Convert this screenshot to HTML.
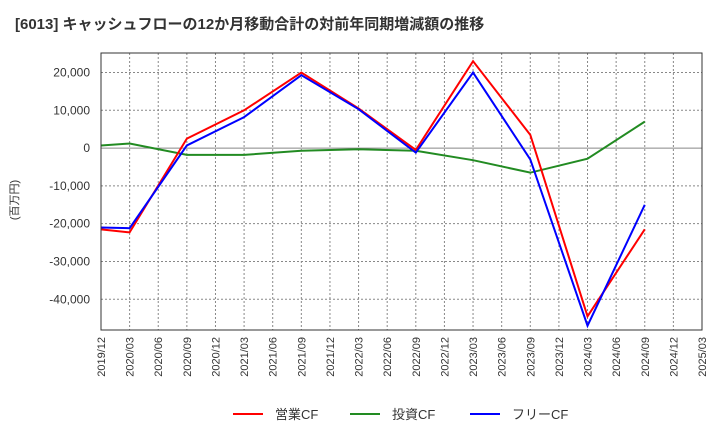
<!DOCTYPE html>
<html><head><meta charset="utf-8"><style>
body{margin:0;background:#fff;font-family:"Liberation Sans","Noto Sans CJK JP",sans-serif;}
</style></head><body>
<svg width="720" height="440" xmlns="http://www.w3.org/2000/svg" id="svg">
<text x="15" y="29" font-size="15" font-weight="bold" fill="#333" font-family="Liberation Sans,Noto Sans CJK JP,sans-serif">[6013]  キャッシュフローの12か月移動合計の対前年同期増減額の推移</text>
<text transform="translate(18,200) rotate(-90)" text-anchor="middle" font-size="11" fill="#333" font-family="Liberation Sans,Noto Sans CJK JP,sans-serif">(百万円)</text>
<g id="grid"></g><g id="lines"></g><g id="axes"></g>
<g>
<line x1="233" y1="414" x2="263" y2="414" stroke="#f00" stroke-width="2"/>
<text x="275" y="419" font-size="13" fill="#333" font-family="Liberation Sans,Noto Sans CJK JP,sans-serif">営業CF</text>
<line x1="350" y1="414" x2="380" y2="414" stroke="#228b22" stroke-width="2"/>
<text x="392" y="419" font-size="13" fill="#333" font-family="Liberation Sans,Noto Sans CJK JP,sans-serif">投資CF</text>
<line x1="470" y1="414" x2="500" y2="414" stroke="#00f" stroke-width="2"/>
<text x="512" y="419" font-size="13" fill="#333" font-family="Liberation Sans,Noto Sans CJK JP,sans-serif">フリーCF</text>
</g>
</svg>
<script>
const categories=["2019/12","2020/03","2020/06","2020/09","2020/12","2021/03","2021/06","2021/09","2021/12","2022/03","2022/06","2022/09","2022/12","2023/03","2023/06","2023/09","2023/12","2024/03","2024/06","2024/09","2024/12","2025/03"];
const pointIdx=[0,1,3,5,7,9,11,13,15,17,19];
const operatingCF=[-21500,-22300,2500,10000,20000,10500,-500,23000,3500,-44500,-21500];
const investingCF=[700,1200,-1800,-1800,-700,-300,-700,-3200,-6500,-2800,7000];
const freeCF=[-21000,-21200,700,8200,19300,10300,-1200,20000,-3000,-47000,-15000];
const yTicks=[20000,10000,0,-10000,-20000,-30000,-40000];
const yTickLabels=["20,000","10,000","0","-10,000","-20,000","-30,000","-40,000"];
const L=101,R=702,T=53,B=330,YMAX=24900,YMIN=-48400;
const NS="http://www.w3.org/2000/svg";
const xs=i=>L+i*(R-L)/(categories.length-1);
const ys=v=>T+1+(YMAX-v)*(B-T)/(YMAX-YMIN);
function mk(t,a,p){const e=document.createElementNS(NS,t);for(const k in a)e.setAttribute(k,a[k]);p.appendChild(e);return e;}
const grid=document.getElementById('grid'),axes=document.getElementById('axes'),lines=document.getElementById('lines');
categories.forEach((c,i)=>{
  const g=mk('line',{x1:xs(i),x2:xs(i),y1:T,y2:B,stroke:'#888','stroke-dasharray':'2,2','stroke-width':1},grid);
  
  
  const t=mk('text',{transform:`translate(${xs(i)+4},${B+7}) rotate(-90)`,'text-anchor':'end','font-size':11,fill:'#333'},axes);
  t.textContent=c;
  
  
});
yTicks.forEach((v,i)=>{
  const g=mk('line',{x1:L,x2:R,y1:ys(v),y2:ys(v),stroke:'#888','stroke-dasharray':v===0?'none':'2,2','stroke-width':1},grid);
  
  
  const t=mk('text',{x:L-11,y:ys(v)+4,'text-anchor':'end','font-size':12,fill:'#333'},axes);
  t.textContent=yTickLabels[i];
  
  
});
const fr=mk('rect',{x:L,y:T,width:R-L,height:B-T,fill:'none',stroke:'#333','stroke-width':1},axes);


[[investingCF,'#228b22','investing-cf-line'],[operatingCF,'#f00','operating-cf-line'],[freeCF,'#00f','free-cf-line']].forEach(([d,c,n])=>{
  const p=mk('polyline',{points:d.map((v,k)=>xs(pointIdx[k])+','+ys(v)).join(' '),fill:'none',stroke:c,'stroke-width':2},lines);
  
  
});
</script>
</body></html>
